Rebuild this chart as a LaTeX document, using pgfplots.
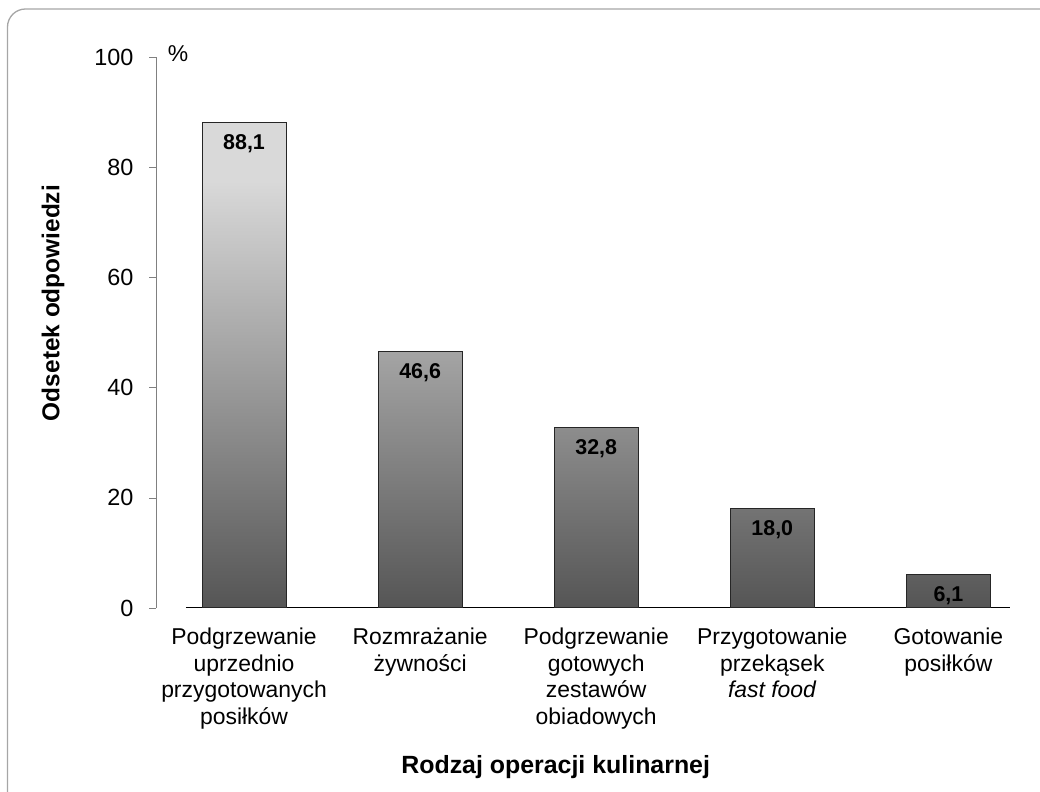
\documentclass[border=0pt]{standalone}
\usepackage{fontspec}
\setmainfont{Liberation Sans}
\usepackage{pgfplots}
\pgfplotsset{compat=1.18}
\definecolor{frm}{HTML}{A6A6A6}
\definecolor{bdark}{HTML}{555555}
\definecolor{blight}{HTML}{D9D9D9}
\pgfdeclareverticalshading{barsh}{100bp}{color(0bp)=(bdark); color(25bp)=(bdark); color(69bp)=(blight); color(100bp)=(blight)}

\begin{document}
\begin{tikzpicture}[x=1bp,y=1bp]
\useasboundingbox (0,0) rectangle (1040,792);
\begin{scope}
\clip (0,0) rectangle (1040,792);
\draw[frm, line width=1.3bp, rounded corners=18bp] (7.5,-40) rectangle (1080,783);
\end{scope}
\begin{axis}[
  at={(156bp,184bp)}, anchor=south west,
  scale only axis, width=854bp, height=551bp,
  xmin=-0.5, xmax=4.35, ymin=0, ymax=100,
  separate axis lines,
  axis x line=bottom, axis y line=left,
  axis line style={-},
  x axis line style={draw=none},
  y axis line style={gray},
  xtick={0,1,2,3,4},
  xtick style={draw=none},
  xticklabels={Podgrzewanie\\uprzednio\\przygotowanych\\posiłków,
               Rozmrażanie\\żywności,
               Podgrzewanie\\gotowych\\zestawów\\obiadowych,
               Przygotowanie\\przekąsek\\\textit{fast food},
               Gotowanie\\posiłków},
  xticklabel style={align=center, anchor=north, yshift=-9bp, font=\fontsize{23}{27}\selectfont},
  ytick={0,20,40,60,80,100},
  ytick style={gray},
  tick align=outside, major tick length=7bp,
  yticklabel style={font=\fontsize{23.5}{27}\selectfont, xshift=-12bp},
  /pgf/number format/assume math mode=true,
  ylabel={Odsetek odpowiedzi},
  every axis y label/.style={at={(rel axis cs:-0.1206,0.5535)}, rotate=90, anchor=center, font=\fontsize{24.5}{28}\selectfont\bfseries},
  xlabel={Rodzaj operacji kulinarnej},
  every axis x label/.style={at={(rel axis cs:0.468,-0.2995)}, anchor=base, font=\fontsize{25}{29}\selectfont\bfseries},
  ybar, bar width=84bp,
  nodes near coords={\pgfmathprintnumber[fixed,fixed zerofill,precision=1,use comma]{\pgfplotspointmeta}},
  nodes near coords style={anchor=north, yshift=-8bp, font=\fontsize{21.5}{25}\selectfont\bfseries},
  clip=false,
]
\draw[black, line width=1bp] (axis cs:-0.33,0) -- (axis cs:4.35,0);
\addplot[draw=black!85, line width=1bp, shading=barsh] coordinates {(0,88.1) (1,46.6) (2,32.8) (3,18.0) (4,6.1)};
\node[anchor=base, font=\fontsize{23}{27}\selectfont] at (rel axis cs:0.0258,0.991) {\%};
\end{axis}
\end{tikzpicture}
\end{document}
